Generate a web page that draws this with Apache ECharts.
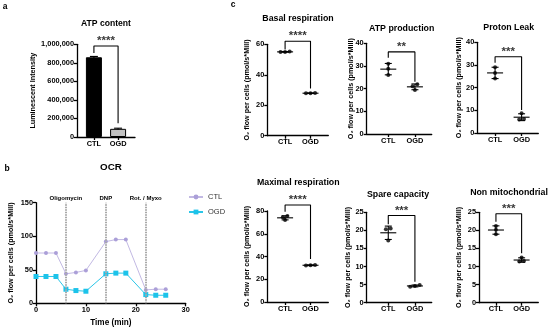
<!DOCTYPE html>
<html><head><meta charset="utf-8">
<script src="https://cdn.jsdelivr.net/npm/echarts@6/dist/echarts.min.js"></script>
<style>html,body{margin:0;padding:0;background:#fff}#c{width:550px;height:333px}</style>
</head><body><div id="c"></div>
<script>
// ---------- DATA ----------
const groups = ['CTL', 'OGD'];

// a: ATP content
const atpMean = [860000, 88000];
const atpSD = [9000, 7000];
const atpBracket = [906000, 982000, 147000];
const atpStars = '****';

// b: OCR
const ocrTime = [0, 2, 4, 6, 8, 10, 14, 16, 18, 22, 24, 26];
const ocrCTL = [75, 75, 75, 44, 46, 49, 92, 95, 95, 20, 21, 21];
const ocrOGD = [40, 40, 40, 21, 19, 18, 44, 45, 45, 13, 12, 12];
const injectionTimes = [6, 14, 22];
const injectionLabels = ['Oligomycin', 'DNP', 'Rot. / Myxo'];

// c: respiration parameters (three replicates per group)
const panelTitles = ['Basal respiration', 'ATP production', 'Proton Leak', 'Maximal respiration', 'Spare capacity', 'Non mitochondrial'];
const basalCTL = [55.2, 54.9, 55.0];
const basalOGD = [28.0, 27.8, 27.9];
const atpProdCTL = [31.0, 28.8, 26.0];
const atpProdOGD = [21.9, 21.1, 19.4];
const protonCTL = [29.0, 26.5, 24.0];
const protonOGD = [8.7, 6.2, 6.0];
const maximalCTL = [75.5, 74.5, 72.0];
const maximalOGD = [32.6, 32.3, 32.0];
const spareCTL = [20.5, 20.3, 17.2];
const spareOGD = [4.9, 4.6, 4.4];
const nonMitoCTL = [21.2, 20.2, 18.9];
const nonMitoOGD = [12.5, 11.4, 11.5];
// significance brackets: [left leg bottom, top, right leg bottom]
const basalBracket = [56.6, 62, 31];
const atpProdBracket = [33.6, 36.2, 23];
const protonBracket = [31, 33.6, 10.1];
const maximalBracket = [79.4, 85.3, 37.8];
const spareBracket = [21.7, 24.1, 5.8];
const nonMitoBracket = [22.4, 24.6, 13.7];
const panelStars = ['****', '**', '***', '****', '***', '***'];
const panelYMax = [60, 40, 40, 80, 25, 25];
const panelYStep = [20, 10, 10, 20, 5, 5];

// ---------- STYLE / LAYOUT ----------
const FF = "'Liberation Sans', Arial, sans-serif";
const BLACK = '#000';
const axisLineStyle = { color: BLACK, width: 1.3 };
const tickLbl = { fontFamily: FF, fontWeight: 'bold', fontSize: 7.4, color: BLACK, margin: 3 };
const yName = 'O\u2082 flow per cells (pmol/s*Mill)';
const nameStyle = { fontFamily: FF, fontWeight: 'bold', fontSize: 7.2, color: BLACK };

const dotLayout = [
  { left: 267.3, top: 44.3, width: 61, height: 91.4, xr: [0.3, 2.7], gap: 16.5, tx: 298, ty: 14.5 },
  { left: 366.7, top: 43.3, width: 65, height: 90.7, xr: [0.19, 2.63], gap: 12.5, tx: 401.7, ty: 24 },
  { left: 477.3, top: 42.3, width: 61, height: 90.7, xr: [0.33, 2.63], gap: 14.5, tx: 508.7, ty: 23.5 },
  { left: 267.3, top: 211, width: 61, height: 91, xr: [0.3, 2.7], gap: 16.5, tx: 298.3, ty: 178.5 },
  { left: 366.7, top: 212.3, width: 65, height: 90.4, xr: [0.19, 2.63], gap: 15, tx: 398, ty: 190 },
  { left: 479, top: 212.3, width: 59.3, height: 90.4, xr: [0.34, 2.65], gap: 16.5, tx: 509, ty: 188 }
];
const dotCTL = [basalCTL, atpProdCTL, protonCTL, maximalCTL, spareCTL, nonMitoCTL];
const dotOGD = [basalOGD, atpProdOGD, protonOGD, maximalOGD, spareOGD, nonMitoOGD];
const dotBrackets = [basalBracket, atpProdBracket, protonBracket, maximalBracket, spareBracket, nonMitoBracket];

function mean(a) { return a.reduce((s, v) => s + v, 0) / a.length; }
function sd(a) { const m = mean(a); return Math.sqrt(a.reduce((s, v) => s + (v - m) * (v - m), 0) / (a.length - 1)); }
// simple jitter: spread replicates whose values are close to each other
function jitter(vals, xc, range) {
  const thr = range * 0.03, step = 0.18;
  const idx = vals.map((v, i) => i).sort((i, j) => vals[i] - vals[j]);
  const out = new Array(vals.length);
  let cl = [idx[0]];
  const flush = () => { cl.forEach((k, n) => { out[k] = [xc + (n - (cl.length - 1) / 2) * step, vals[k]]; }); };
  for (let n = 1; n < idx.length; n++) {
    if (vals[idx[n]] - vals[cl[cl.length - 1]] <= thr) cl.push(idx[n]); else { flush(); cl = [idx[n]]; }
  }
  flush();
  return out;
}

function errRender(meanHalf, capHalf) {
  return function (params, api) {
    const x = api.value(0), m = api.value(1), e = api.value(2);
    const c = api.coord([x, m]), t = api.coord([x, m + e]), b = api.coord([x, m - e]);
    const st = { stroke: BLACK, lineWidth: 1.1 };
    const ch = [];
    if (meanHalf > 0) ch.push({ type: 'line', shape: { x1: c[0] - meanHalf, y1: c[1], x2: c[0] + meanHalf, y2: c[1] }, style: st });
    ch.push({ type: 'line', shape: { x1: c[0], y1: t[1], x2: c[0], y2: b[1] }, style: st });
    ch.push({ type: 'line', shape: { x1: c[0] - capHalf, y1: t[1], x2: c[0] + capHalf, y2: t[1] }, style: st });
    if (meanHalf > 0) ch.push({ type: 'line', shape: { x1: c[0] - capHalf, y1: b[1], x2: c[0] + capHalf, y2: b[1] }, style: st });
    return { type: 'group', children: ch };
  };
}

function catXAxis(gi, xr) {
  return {
    gridIndex: gi, type: 'value', min: xr[0], max: xr[1],
    axisLine: { show: true, onZero: false, lineStyle: axisLineStyle },
    axisTick: { show: true, length: 3, customValues: [1, 2], lineStyle: axisLineStyle },
    axisLabel: Object.assign({}, tickLbl, { customValues: [1, 2], formatter: v => groups[Math.round(v) - 1] || '' }),
    splitLine: { show: false }
  };
}
function valYAxis(gi, max, step, name, gap, fmt) {
  return {
    gridIndex: gi, type: 'value', min: 0, max: max, interval: step,
    name: name, nameLocation: 'middle', nameGap: gap, nameTextStyle: nameStyle, nameMoveOverlap: false,
    axisLine: { show: true, lineStyle: axisLineStyle },
    axisTick: { show: true, length: 3, lineStyle: axisLineStyle },
    axisLabel: Object.assign({}, tickLbl, fmt ? { formatter: fmt } : {}),
    splitLine: { show: false }
  };
}
function bracketSeries(ax, b, stars) {
  return [{
    type: 'line', xAxisIndex: ax, yAxisIndex: ax, clip: false, silent: true, showSymbol: false, symbol: 'none',
    lineStyle: { color: BLACK, width: 1.1 }, z: 5,
    data: [[1, b[0]], [1, b[1]], [2, b[1]], [2, b[2]]]
  }, {
    type: 'scatter', xAxisIndex: ax, yAxisIndex: ax, clip: false, silent: true, symbolSize: 0,
    data: [[1.5, b[1]]],
    label: { show: true, position: 'top', distance: -1, formatter: stars, fontFamily: FF, fontWeight: 'bold', fontSize: 11.5, color: BLACK }
  }];
}

const grids = [], xAxes = [], yAxes = [], series = [], titles = [];
const titleStyle = (fs) => ({ fontFamily: FF, fontWeight: 'bold', fontSize: fs, color: BLACK });

// panel letters
[['a', 5, 2], ['b', 7, 164.5], ['c', 233, 0.5]].forEach(p => titles.push({ text: p[0], left: p[1], top: p[2], textAlign: 'center', padding: 0, textStyle: titleStyle(8.5) }));

// ---- a ----
grids.push({ left: 77, top: 44.3, width: 58, height: 92.7 });
xAxes.push(catXAxis(0, [0.3, 2.7]));
yAxes.push(valYAxis(0, 1000000, 200000, 'Luminescent Intensity', 40, v => v.toLocaleString('en-US')));
titles.push({ text: 'ATP content', left: 106, top: 19.5, textAlign: 'center', padding: 0, textStyle: titleStyle(8.6) });
series.push({
  type: 'bar', xAxisIndex: 0, yAxisIndex: 0, barWidth: 16, silent: true,
  data: atpMean.map((v, i) => ({ value: [i + 1, v], itemStyle: { color: i === 0 ? '#000' : '#c2c2c2', borderColor: BLACK, borderWidth: 1 } }))
});
series.push({ type: 'custom', xAxisIndex: 0, yAxisIndex: 0, silent: true, z: 4, renderItem: errRender(0, 4), data: atpMean.map((v, i) => [i + 1, v, atpSD[i]]) });
series.push(...bracketSeries(0, atpBracket, atpStars));

// ---- b ----
grids.push({ left: 36, top: 202.7, width: 149.7, height: 100.6 });
xAxes.push({
  gridIndex: 1, type: 'value', min: 0, max: 30, interval: 10,
  name: 'Time (min)', nameLocation: 'middle', nameGap: 15, nameTextStyle: Object.assign({}, nameStyle, { fontSize: 8.2 }), nameMoveOverlap: false,
  axisLine: { show: true, onZero: false, lineStyle: axisLineStyle },
  axisTick: { show: true, length: 3, lineStyle: axisLineStyle },
  axisLabel: tickLbl, splitLine: { show: false }
});
yAxes.push(valYAxis(1, 150, 50, yName, 21.5));
titles.push({ text: 'OCR', left: 111, top: 162.5, textAlign: 'center', padding: 0, textStyle: titleStyle(9.8) });
series.push({
  name: 'CTL', type: 'line', xAxisIndex: 1, yAxisIndex: 1, symbol: 'circle', symbolSize: 4,
  lineStyle: { color: '#c2b9e3', width: 1 }, itemStyle: { color: '#ab9fd8' },
  data: ocrTime.map((t, i) => [t, ocrCTL[i]]),
  markLine: {
    silent: true, symbol: ['none', 'none'],
    lineStyle: { color: '#a8a8a8', type: [1.5, 1], width: 2 },
    label: { show: true, position: 'end', distance: 1, formatter: p => p.name, fontFamily: FF, fontWeight: 'bold', fontSize: 6, color: BLACK },
    data: injectionTimes.map((t, i) => ({ xAxis: t, name: injectionLabels[i] }))
  }
});
series.push({
  name: 'OGD', type: 'line', xAxisIndex: 1, yAxisIndex: 1, symbol: 'rect', symbolSize: 5,
  lineStyle: { color: '#2bc6e8', width: 1 }, itemStyle: { color: '#1cc3ea' },
  data: ocrTime.map((t, i) => [t, ocrOGD[i]])
});

// ---- c ----
dotLayout.forEach((L, k) => {
  const gi = k + 2;
  grids.push({ left: L.left, top: L.top, width: L.width, height: L.height });
  xAxes.push(catXAxis(gi, L.xr));
  yAxes.push(valYAxis(gi, panelYMax[k], panelYStep[k], yName, L.gap));
  titles.push({ text: panelTitles[k], left: L.tx, top: L.ty, textAlign: 'center', padding: 0, textStyle: titleStyle(8.8) });
  const pts = jitter(dotCTL[k], 1, panelYMax[k]).concat(jitter(dotOGD[k], 2, panelYMax[k]));
  series.push({ type: 'scatter', xAxisIndex: gi, yAxisIndex: gi, silent: true, symbol: 'circle', symbolSize: 4, itemStyle: { color: BLACK }, data: pts });
  series.push({
    type: 'custom', xAxisIndex: gi, yAxisIndex: gi, silent: true, z: 4, renderItem: errRender(8, 3.5),
    data: [[1, mean(dotCTL[k]), sd(dotCTL[k])], [2, mean(dotOGD[k]), sd(dotOGD[k])]]
  });
  series.push(...bracketSeries(gi, dotBrackets[k], panelStars[k]));
});

const chart = echarts.init(document.getElementById('c'), null, { renderer: 'canvas' });
chart.setOption({
  animation: false,
  backgroundColor: '#fff',
  title: titles,
  legend: {
    data: ['CTL', 'OGD'], left: 188, top: 193, orient: 'vertical', itemWidth: 14, itemHeight: 6, itemGap: 7,
    textStyle: { fontFamily: FF, fontSize: 7.5, color: '#333' }, padding: 0, selectedMode: false
  },
  grid: grids, xAxis: xAxes, yAxis: yAxes, series: series
});
</script></body></html>
